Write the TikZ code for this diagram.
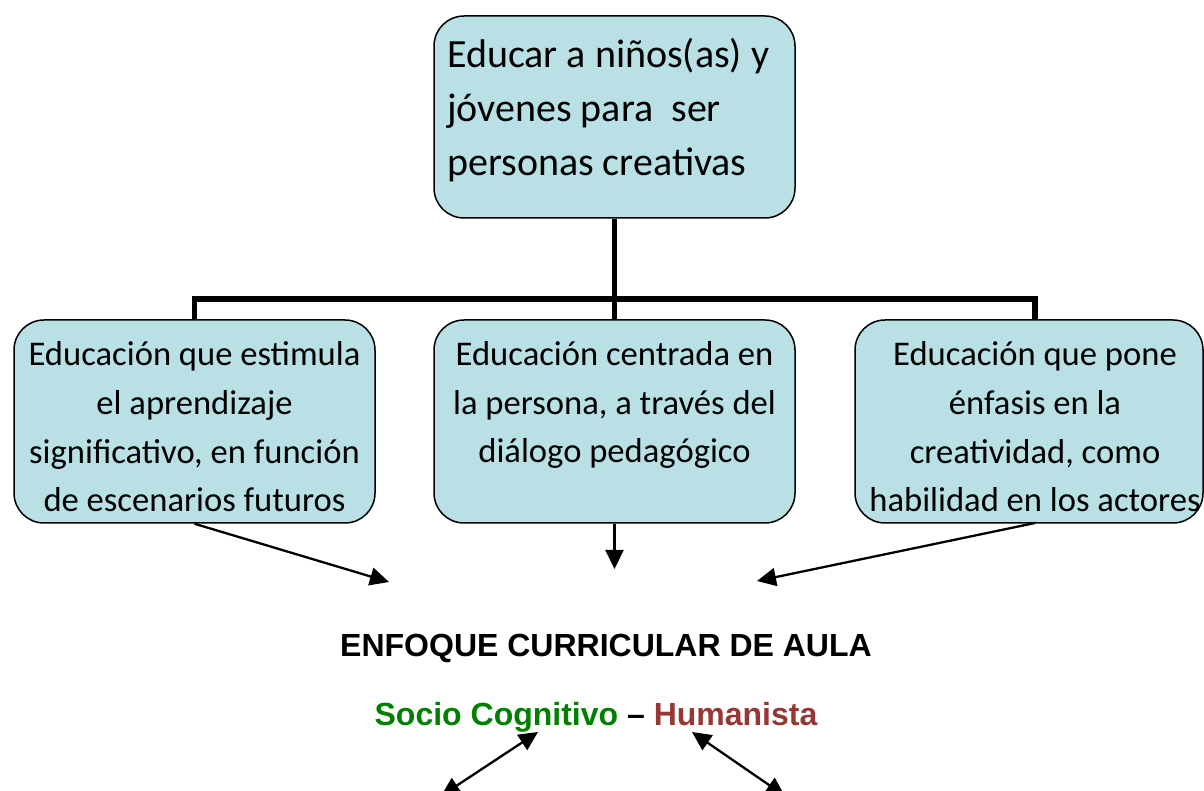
\documentclass[tikz,border=0pt]{standalone}
\usepackage{fontspec}
\setmainfont{Carlito}
\newfontfamily\arialfont{Liberation Sans}
\usetikzlibrary{arrows.meta}
\definecolor{boxfill}{RGB}{185,224,228}
\definecolor{socgreen}{RGB}{0,128,0}
\definecolor{humred}{RGB}{149,55,53}
\tikzset{
  cbox/.style={draw=black, line width=1.5pt, fill=boxfill, rounded corners=30pt, inner sep=0pt},
  boxtext/.style={inner sep=0pt, font=\fontsize{34.6}{48.7}\selectfont, align=center},
  bus/.style={line width=5.5pt, line cap=butt},
  arr/.style={line width=2.3pt, -{Triangle[length=19pt,width=18pt]}},
  darr/.style={line width=2.3pt, {Triangle[length=19pt,width=18pt]}-{Triangle[length=19pt,width=18pt]}},
  titletext/.style={inner sep=0pt, font=\arialfont\bfseries\fontsize{32}{36}\selectfont}
}
\begin{document}
\begin{tikzpicture}[x=1pt,y=1pt]
\useasboundingbox (0,0) rectangle (1204,790);
\clip (0,0) rectangle (1204,790);
% boxes
\node[cbox, minimum width=361pt, minimum height=202pt] (top) at (614.5,673) {};
\node[anchor=base west, inner sep=0pt, align=left, font=\fontsize{40}{54}\selectfont] (toptext) at (447,614)
  {Educar a niños(as) y\\jóvenes para\ \ ser\\personas creativas};
\node[cbox, minimum width=361pt, minimum height=203pt] (lbox) at (194.5,368.5) {};
\node[cbox, minimum width=361pt, minimum height=203pt] (mbox) at (614.5,368.5) {};
\node[cbox, minimum width=348pt, minimum height=203pt] (rbox) at (1029,368.5) {};
\node[boxtext, anchor=base] (ltext) at (194.5,278)
  {Educación que estimula\\el aprendizaje\\significativo, en función\\de escenarios futuros};
\node[boxtext, anchor=base] (mtext) at (614.5,327)
  {Educación centrada en\\la persona, a través del\\diálogo pedagógico};
\node[boxtext, anchor=base] (rtext) at (1035,278)
  {Educación que pone\\énfasis en la\\creatividad, como\\habilidad en los actores};
% bus connector
\coordinate (j) at (614.5,491);
\coordinate (rtop) at (1035,470);
\coordinate (rbot) at (1035,267);
\draw[bus] (top.south) -- (j);
\draw[bus] (lbox.north) -- (lbox.north |- j) -- (rtop |- j) -- (rtop);
\draw[bus] (j) -- (mbox.north);
% arrows to title
\coordinate (tl) at (389,208);
\coordinate (tm) at (614.5,221);
\coordinate (tr) at (757,209);
\draw[arr] (lbox.south) -- (tl);
\draw[arr] (mbox.south) -- (tm);
\draw[arr] (rbot) -- (tr);
% titles
\node[titletext, anchor=base] (title) at (606,134) {ENFOQUE CURRICULAR DE AULA};
\node[titletext, anchor=base] (sub) at (596,65)
  {\textcolor{socgreen}{Socio Cognitivo} – \textcolor{humred}{Humanista}};
% double arrows
\coordinate (a1) at (538,58);
\coordinate (a2) at (441,-6);
\coordinate (b1) at (692,58);
\coordinate (b2) at (785,-6);
\draw[darr] (a1) -- (a2);
\draw[darr] (b1) -- (b2);
\end{tikzpicture}
\end{document}
